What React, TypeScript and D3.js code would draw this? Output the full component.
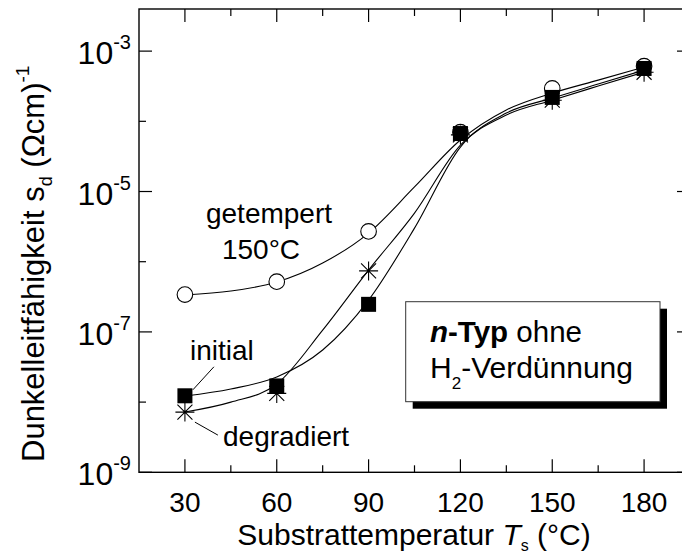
import React from "react";
import * as d3 from "d3";

// Measured data points (S/cm) at substrate temperatures (°C)
const temperatures = [30, 60, 90, 120, 150, 180];
const getempertPoints = [3.4e-7, 5.2e-7, 2.7e-6, 7.0e-5, 2.94e-4, 6.1e-4];
const initialPoints = [1.23e-8, 1.7e-8, 2.47e-7, 6.7e-5, 2.19e-4, 5.66e-4];
const degradiertPoints = [7.2e-9, 1.33e-8, 7.4e-7, 6.4e-5, 2.0e-4, 5.0e-4];

// Fitted curves
const fitTemperatures = [30, 45, 60, 75, 90, 105, 120, 135, 150, 165, 180];
const getempertFit = [3.35e-7, 3.82e-7, 5.13e-7, 9.57e-7, 2.56e-6, 1.16e-5, 5.41e-5, 1.45e-4, 2.52e-4, 3.86e-4, 5.92e-4];
const initialFit = [1.22e-8, 1.54e-8, 2.28e-8, 5.52e-8, 2.84e-7, 3.01e-6, 4.3e-5, 1.31e-4, 2.14e-4, 3.39e-4, 5.36e-4];
const degradiertFit = [7.23e-9, 1.0e-8, 1.81e-8, 1.06e-7, 7.6e-7, 4.93e-6, 4.58e-5, 1.23e-4, 2.0e-4, 3.18e-4, 5.02e-4];

// Ticks
const xMajorTicks = [30, 60, 90, 120, 150, 180];
const xMinorTicks = [45, 75, 105, 135, 165];
const yMajorExponents = [-3, -5, -7, -9];
const yMinorExponents = [-4, -6, -8];

const W = 682;
const H = 557;
const PL = 139;
const PR = 690;
const PT = 9;
const PB = 472.3;
const FONT = "'Liberation Sans', Arial, Helvetica, sans-serif";

export default function App() {
  const x = d3.scaleLinear().domain([15, 195]).range([PL, PR]);
  const y = d3.scaleLog().domain([1e-9, Math.pow(10, -2.4)]).range([PB, PT]);

  const line = d3
    .line<[number, number]>()
    .x((d) => x(d[0]))
    .y((d) => y(d[1]))
    .curve(d3.curveMonotoneX);

  const mk = (vals: number[]) => fitTemperatures.map((t, i) => [t, vals[i]] as [number, number]);

  const major = 13;
  const minor = 7;

  const r = 9.5;
  const rd = 7.5;
  const starPath = `M0,${-r}V${r}M${-r},0H${r}M${-rd},${-rd}L${rd},${rd}M${-rd},${rd}L${rd},${-rd}`;
  const sq = 15;

  return (
    <div style={{ position: "absolute", left: 0, top: 0 }}>
      <svg width={W} height={H} style={{ display: "block", background: "#fff" }} fontFamily={FONT}>
        <rect x={0} y={0} width={W} height={H} fill="#fff" />
        {/* curves */}
        <g fill="none" stroke="#000" strokeWidth={1.1}>
          <path d={line(mk(getempertFit)) || ""} />
          <path d={line(mk(initialFit)) || ""} />
          <path d={line(mk(degradiertFit)) || ""} />
        </g>
        {/* circles */}
        {temperatures.map((t, i) => (
          <circle key={"c" + i} cx={x(t)} cy={y(getempertPoints[i])} r={7.8} fill="#fff" stroke="#000" strokeWidth={1.1} />
        ))}
        {/* stars */}
        {temperatures.map((t, i) => (
          <path key={"s" + i} d={starPath} transform={`translate(${x(t)},${y(degradiertPoints[i])})`} stroke="#000" strokeWidth={1.1} fill="none" />
        ))}
        {/* squares */}
        {temperatures.map((t, i) => (
          <rect key={"q" + i} x={x(t) - sq / 2} y={y(initialPoints[i]) - sq / 2} width={sq} height={sq} fill="#000" />
        ))}

        {/* frame */}
        <rect x={PL} y={PT} width={PR - PL} height={PB - PT} fill="none" stroke="#000" strokeWidth={1.4} />
        {/* ticks */}
        <g stroke="#000" strokeWidth={1.2}>
          {xMajorTicks.map((t) => (
            <g key={"xm" + t}>
              <line x1={x(t)} x2={x(t)} y1={PB} y2={PB - major} />
              <line x1={x(t)} x2={x(t)} y1={PT} y2={PT + major} />
            </g>
          ))}
          {xMinorTicks.map((t) => (
            <g key={"xn" + t}>
              <line x1={x(t)} x2={x(t)} y1={PB} y2={PB - minor} />
              <line x1={x(t)} x2={x(t)} y1={PT} y2={PT + minor} />
            </g>
          ))}
          {yMajorExponents.map((e) => (
            <g key={"ym" + e}>
              <line x1={PL} x2={PL + major} y1={y(Math.pow(10, e))} y2={y(Math.pow(10, e))} />
              <line x1={PR} x2={PR - major} y1={y(Math.pow(10, e))} y2={y(Math.pow(10, e))} />
            </g>
          ))}
          {yMinorExponents.map((e) => (
            <g key={"yn" + e}>
              <line x1={PL} x2={PL + minor} y1={y(Math.pow(10, e))} y2={y(Math.pow(10, e))} />
              <line x1={PR} x2={PR - minor} y1={y(Math.pow(10, e))} y2={y(Math.pow(10, e))} />
            </g>
          ))}
        </g>

        {/* x tick labels */}
        {xMajorTicks.map((t) => (
          <text key={"xl" + t} x={x(t)} y={511.5} textAnchor="middle" fontSize={28}>
            {t}
          </text>
        ))}
        {/* y tick labels */}
        {yMajorExponents.map((e) => (
          <text key={"yl" + e} x={131} y={y(Math.pow(10, e)) + 13} textAnchor="end" fontSize={32}>
            10
            <tspan dy={-15} fontSize={20}>
              {String(e)}
            </tspan>
          </text>
        ))}

        {/* axis titles */}
        <text x={414} y={545} textAnchor="middle" fontSize={30}>
          Substrattemperatur{" "}
          <tspan fontStyle="italic">T</tspan>
          <tspan dy={6} fontSize={16}>s</tspan>
          <tspan dy={-6}> (°C)</tspan>
        </text>
        <text transform={`translate(44,462) rotate(-90)`} x={0} y={0} fontSize={31}>
          Dunkelleitfähigkeit s
          <tspan dy={8} fontSize={18}>d</tspan>
          <tspan dy={-8}> (Ωcm)</tspan>
          <tspan dy={-15} fontSize={19}>-1</tspan>
        </text>

        {/* annotations */}
        <text x={269} y={223} textAnchor="middle" fontSize={28}>getempert</text>
        <text x={261} y={259} textAnchor="middle" fontSize={28}>150°C</text>
        <text x={190} y={360} fontSize={28}>initial</text>
        <line x1={x(30) + 8} y1={y(initialPoints[0]) - 6} x2={x(30) + 29} y2={y(initialPoints[0]) - 29} stroke="#000" strokeWidth={1} />
        <text x={223} y={446} fontSize={28}>degradiert</text>
        <line x1={x(30) + 10} y1={y(degradiertPoints[0]) + 10} x2={x(30) + 33} y2={y(degradiertPoints[0]) + 23} stroke="#000" strokeWidth={1} />

        {/* box */}
        <rect x={412.7} y={308.7} width={254.3} height={100} fill="#000" />
        <rect x={405.7} y={301.7} width={254.3} height={100} fill="#fff" stroke="#333" strokeWidth={1} />
        <text x={430} y={341.7} fontSize={29.5}>
          <tspan fontWeight="bold" fontStyle="italic">n</tspan>
          <tspan fontWeight="bold">-Typ</tspan>
          <tspan> ohne</tspan>
        </text>
        <text x={430} y={378.3} fontSize={30}>
          H<tspan dy={11} fontSize={17}>2</tspan>
          <tspan dy={-11}>-Verdünnung</tspan>
        </text>
      </svg>
    </div>
  );
}
